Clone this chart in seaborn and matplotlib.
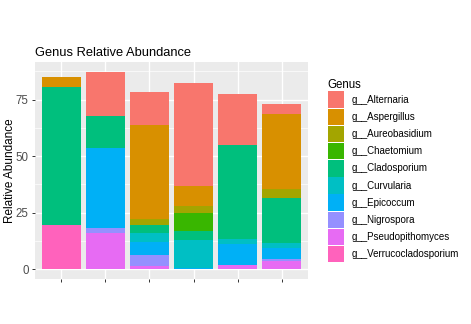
import numpy as np
import pandas as pd
import matplotlib
matplotlib.use("Agg")
import matplotlib.pyplot as plt
from matplotlib.patches import Patch
import seaborn as sns

# Samples (x positions) and relative abundance (%) of each genus per sample
samples = [1, 2, 3, 4, 5, 6]
genera = ["g__Alternaria", "g__Aspergillus", "g__Aureobasidium", "g__Chaetomium",
          "g__Cladosporium", "g__Curvularia", "g__Epicoccum", "g__Nigrospora",
          "g__Pseudopithomyces", "g__Verrucocladosporium"]

alternaria          = [0.0, 19.4, 14.5, 45.7, 22.3, 4.2]
aspergillus         = [4.3, 0.0, 41.5, 8.8, 0.0, 33.1]
aureobasidium       = [0.0, 0.0, 2.6, 2.9, 0.0, 4.0]
chaetomium          = [0.0, 0.0, 0.0, 8.0, 0.0, 0.0]
cladosporium        = [61.0, 14.0, 3.4, 4.0, 41.7, 20.1]
curvularia          = [0.0, 0.0, 4.0, 12.2, 2.1, 2.1]
epicoccum           = [0.0, 35.3, 5.7, 0.8, 9.2, 4.8]
nigrospora          = [0.0, 2.3, 5.2, 0.0, 0.0, 0.8]
pseudopithomyces    = [0.0, 16.2, 1.3, 0.0, 2.1, 3.8]
verrucocladosporium = [19.7, 0.0, 0.0, 0.0, 0.0, 0.0]

palette = ["#F8766D", "#D89000", "#A3A500", "#39B600", "#00BF7D",
           "#00BFC4", "#00B0F6", "#9590FF", "#E76BF3", "#FF62BC"]

series = [alternaria, aspergillus, aureobasidium, chaetomium, cladosporium,
          curvularia, epicoccum, nigrospora, pseudopithomyces, verrucocladosporium]

df = pd.DataFrame({
    "Sample": np.tile(samples, len(genera)),
    "Genus": np.repeat(genera, len(samples)),
    "Abundance": np.concatenate(series),
})

plt.rcParams["font.family"] = ["Liberation Sans", "DejaVu Sans"]

fig = plt.figure(figsize=(4.71, 3.24), dpi=100)
ax = fig.add_axes([35 / 471, 1 - 279.3 / 324, 273 / 471, 217.3 / 324])

sns.histplot(data=df, x="Sample", weights="Abundance", hue="Genus",
             hue_order=genera, palette=palette, multiple="stack",
             discrete=True, shrink=0.9, alpha=1, linewidth=0,
             legend=False, ax=ax, zorder=3)

# ggplot2-style grey panel
ax.set_facecolor("#EBEBEB")
for s in ax.spines.values():
    s.set_visible(False)
ax.set_xlim(0.4, 6.6)
ax.set_ylim(-4.36, 91.56)
ax.set_xticks(samples)
ax.set_xticklabels([""] * len(samples))
ax.set_yticks([0, 25, 50, 75])
ax.set_yticks([12.5, 37.5, 62.5, 87.5], minor=True)
ax.grid(which="major", color="white", linewidth=1.0, zorder=0)
ax.grid(which="minor", axis="y", color="white", linewidth=0.5, zorder=0)
ax.set_axisbelow(True)
ax.tick_params(axis="both", which="major", length=2.5, width=0.7,
               color="#333333", labelcolor="#4D4D4D", labelsize=8.3, pad=2)
ax.tick_params(axis="both", which="minor", length=0)
ax.set_xlabel("")
ax.set_ylabel("Relative Abundance", fontsize=8.5, color="black")
ax.yaxis.set_label_coords(-0.068, 0.5)
ax.set_title("Genus Relative Abundance", loc="left", fontsize=9.3, pad=4.5)

handles = [Patch(facecolor=c, edgecolor="none") for c in palette]
leg = fig.legend(handles, genera, title="Genus", loc="upper left",
                 bbox_to_anchor=(321 / 471, 1 - 72 / 324), frameon=False,
                 fontsize=7, title_fontsize=8.3, handlelength=1.7,
                 handleheight=2.23, labelspacing=0.07, handletextpad=0.72,
                 borderpad=0.2, alignment="left")

fig.savefig("out.png", dpi=100)
